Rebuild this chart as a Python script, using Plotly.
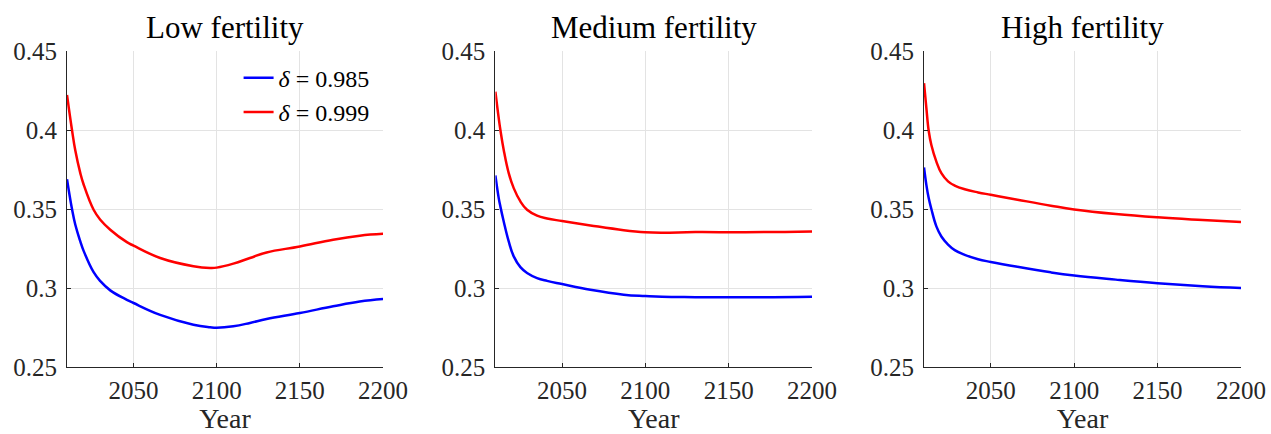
import plotly.graph_objects as go
from plotly.subplots import make_subplots

# ---- data ----
low_years = [2010, 2013, 2015, 2018, 2020, 2026, 2030, 2036, 2046, 2050, 2066, 2086, 2096, 2100, 2110, 2120, 2130, 2150, 2170, 2186, 2200]
low_985 = [0.3689, 0.3500, 0.3400, 0.3295, 0.3235, 0.3100, 0.3044, 0.2985, 0.2925, 0.2905, 0.2830, 0.2768, 0.2752, 0.2749, 0.2758, 0.2779, 0.2804, 0.2842, 0.2884, 0.2914, 0.2930]
low_999 = [0.4222, 0.4000, 0.3870, 0.3727, 0.3655, 0.3495, 0.3432, 0.3369, 0.3290, 0.3268, 0.3190, 0.3138, 0.3127, 0.3129, 0.3154, 0.3190, 0.3225, 0.3263, 0.3306, 0.3331, 0.3343]

med_years = [2010, 2012, 2013, 2015, 2018, 2021, 2025, 2029, 2035, 2041, 2050, 2067, 2087, 2100, 2110, 2130, 2160, 2200]
med_985 = [0.3712, 0.3569, 0.3515, 0.3421, 0.3295, 0.3200, 0.3132, 0.3095, 0.3063, 0.3045, 0.3025, 0.2989, 0.2958, 0.2949, 0.2944, 0.2942, 0.2941, 0.2945]
med_999 = [0.4243, 0.4075, 0.4000, 0.3874, 0.3727, 0.3632, 0.3548, 0.3495, 0.3458, 0.3440, 0.3424, 0.3396, 0.3366, 0.3353, 0.3350, 0.3354, 0.3353, 0.3358]

high_years = [2010, 2011.4, 2012.8, 2014.4, 2017.4, 2020.4, 2024.4, 2028.4, 2034.4, 2042.4, 2050, 2066, 2086, 2100, 2125, 2150, 2177, 2200]
high_985 = [0.3763, 0.3653, 0.3569, 0.3500, 0.3390, 0.3326, 0.3275, 0.3240, 0.3210, 0.3182, 0.3165, 0.3134, 0.3099, 0.3079, 0.3053, 0.3030, 0.3011, 0.3000]
high_999 = [0.4296, 0.4140, 0.3995, 0.3905, 0.3800, 0.3727, 0.3675, 0.3648, 0.3625, 0.3605, 0.3590, 0.3559, 0.3521, 0.3497, 0.3468, 0.3447, 0.3430, 0.3417]

titles = ["Low fertility", "Medium fertility", "High fertility"]
series_names = ["<i>δ</i> = 0.985", "<i>δ</i> = 0.999"]
x_ticks = [2050, 2100, 2150, 2200]
y_ticks = [0.25, 0.3, 0.35, 0.4, 0.45]
y_tick_text = ["0.25", "0.3", "0.35", "0.4", "0.45"]

panels = [(low_years, low_985, low_999),
          (med_years, med_985, med_999),
          (high_years, high_985, high_999)]
colors = ["#0000ff", "#ff0000"]

FONT = "Liberation Serif"
TXT = "#262626"
GRID = "#e3e3e3"

fig = make_subplots(rows=1, cols=3, subplot_titles=titles, horizontal_spacing=0.0957)

for i, (yrs, a, b) in enumerate(panels):
    for j, ys in enumerate((a, b)):
        fig.add_trace(go.Scatter(
            x=yrs, y=ys, mode="lines", name=series_names[j],
            line=dict(color=colors[j], width=2.5, shape="spline", smoothing=1.2),
            showlegend=(i == 0)), row=1, col=i + 1)

domains = [[0.0, 0.2692], [0.3649, 0.6346], [0.730, 1.0]]
for i in range(3):
    xa = "xaxis" if i == 0 else f"xaxis{i+1}"
    ya = "yaxis" if i == 0 else f"yaxis{i+1}"
    fig.layout[xa].update(
        domain=domains[i], range=[2010, 2200], tickvals=x_ticks,
        showgrid=True, gridcolor=GRID, gridwidth=1,
        showline=True, linecolor=TXT, linewidth=1.2, mirror=False,
        ticks="inside", ticklen=4, tickcolor=TXT,
        tickfont=dict(family=FONT, size=25, color=TXT),
        title=dict(text="Year", font=dict(family=FONT, size=28, color=TXT), standoff=3),
        zeroline=False, ticklabelstandoff=1, automargin=False)
    fig.layout[ya].update(
        range=[0.25, 0.45], tickvals=y_ticks, ticktext=y_tick_text,
        showgrid=True, gridcolor=GRID, gridwidth=1,
        showline=True, linecolor=TXT, linewidth=1.2, mirror=False,
        ticks="inside", ticklen=4, tickcolor=TXT,
        tickfont=dict(family=FONT, size=25, color=TXT),
        zeroline=False, ticklabelstandoff=4, automargin=False)

for ann in fig.layout.annotations:
    ann.font = dict(family=FONT, size=31, color="#000000")
    ann.yshift = 4

fig.update_layout(
    width=1271, height=434,
    margin=dict(l=67, r=30, t=51, b=67),
    paper_bgcolor="white", plot_bgcolor="white",
    legend=dict(x=0.262, xanchor="right", y=0.985, yanchor="top",
                bgcolor="rgba(0,0,0,0)", borderwidth=0,
                font=dict(family=FONT, size=24, color="#000000"),
                tracegroupgap=0, itemwidth=30),
)

fig.write_html("out.html", config={"displayModeBar": False},
               post_script="document.body.style.margin='0';document.body.style.padding='0';")
